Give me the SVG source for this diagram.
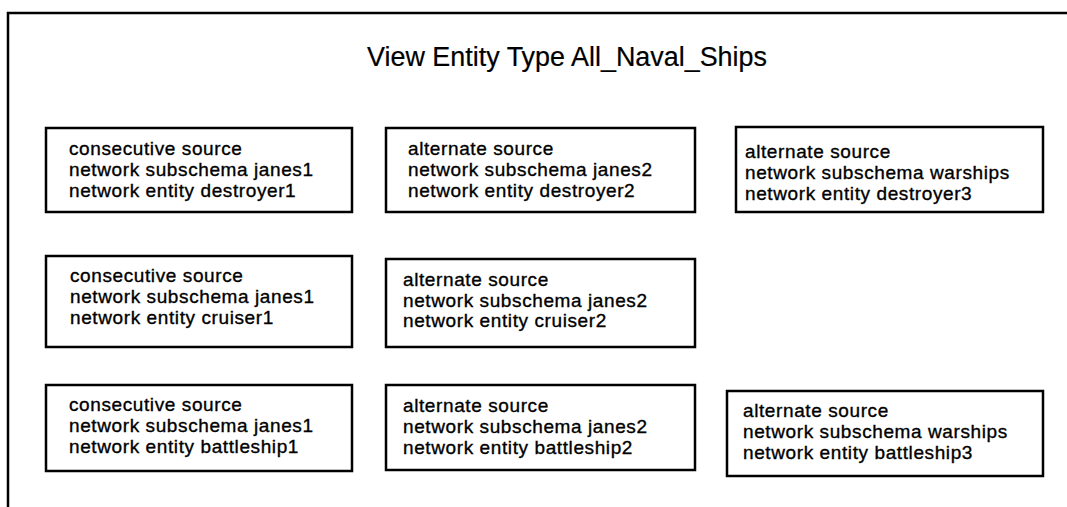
<svg xmlns="http://www.w3.org/2000/svg" width="1067" height="507" viewBox="0 0 1067 507">
<style>
.frame{fill:none;stroke:#000;stroke-width:2.5}
.box{fill:#fff;stroke:#000;stroke-width:2.5}
.t{font-family:"Liberation Sans",Arial,sans-serif;font-size:19px;letter-spacing:0.6px;fill:#000;stroke:#000;stroke-width:0.35}
.title{font-family:"Liberation Sans",Arial,sans-serif;font-size:27px;fill:#000;stroke:#000;stroke-width:0.2}
</style>
<rect x="0" y="0" width="1067" height="507" fill="#fff"/>
<path class="frame" d="M8 507 V13 H1067"/>
<text class="title" x="367" y="66" textLength="400" lengthAdjust="spacingAndGlyphs">View Entity Type All_Naval_Ships</text>
<g id="connectors"/>
<g id="n1">
<rect class="box" x="46" y="128" width="306" height="84"/>
<text class="t" x="69" y="155">consecutive source</text>
<text class="t" x="69" y="176">network subschema janes1</text>
<text class="t" x="69" y="197">network entity destroyer1</text>
</g>
<g id="n2">
<rect class="box" x="386" y="128" width="309" height="84"/>
<text class="t" x="408" y="155">alternate source</text>
<text class="t" x="408" y="176">network subschema janes2</text>
<text class="t" x="408" y="197">network entity destroyer2</text>
</g>
<g id="n3">
<rect class="box" x="736" y="127" width="307" height="85"/>
<text class="t" x="745" y="158">alternate source</text>
<text class="t" x="745" y="179">network subschema warships</text>
<text class="t" x="745" y="200">network entity destroyer3</text>
</g>
<g id="n4">
<rect class="box" x="46" y="256" width="306" height="91"/>
<text class="t" x="70" y="282">consecutive source</text>
<text class="t" x="70" y="303">network subschema janes1</text>
<text class="t" x="70" y="324">network entity cruiser1</text>
</g>
<g id="n5">
<rect class="box" x="386" y="259" width="309" height="88"/>
<text class="t" x="403" y="286">alternate source</text>
<text class="t" x="403" y="307">network subschema janes2</text>
<text class="t" x="403" y="327">network entity cruiser2</text>
</g>
<g id="n6">
<rect class="box" x="46" y="385" width="306" height="86"/>
<text class="t" x="69" y="411">consecutive source</text>
<text class="t" x="69" y="432">network subschema janes1</text>
<text class="t" x="69" y="453">network entity battleship1</text>
</g>
<g id="n7">
<rect class="box" x="386" y="385" width="309" height="85"/>
<text class="t" x="403" y="412">alternate source</text>
<text class="t" x="403" y="433">network subschema janes2</text>
<text class="t" x="403" y="454">network entity battleship2</text>
</g>
<g id="n8">
<rect class="box" x="727" y="391" width="316" height="85"/>
<text class="t" x="743" y="417">alternate source</text>
<text class="t" x="743" y="438">network subschema warships</text>
<text class="t" x="743" y="459">network entity battleship3</text>
</g>
</svg>
